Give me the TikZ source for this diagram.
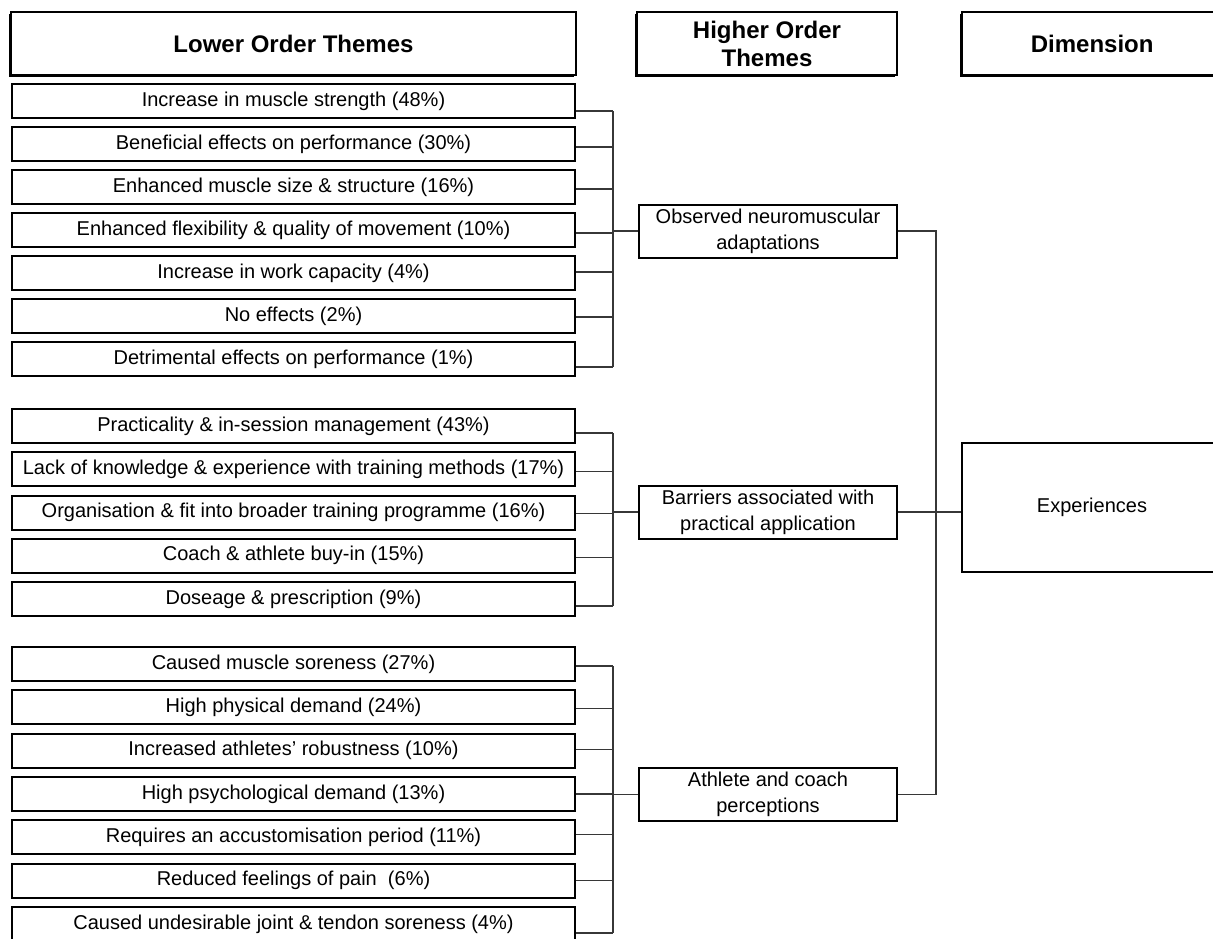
\documentclass[tikz,border=0pt]{standalone}
\usepackage{fontspec}
\setmainfont{Liberation Sans}
\usepackage{xcolor}
\definecolor{ink}{RGB}{0,0,0}
\definecolor{wiregray}{RGB}{55,55,55}
\usepackage{tikz}
\usetikzlibrary{calc,shadows}
\tikzset{
  %% column headers
  headbox/.style={draw=ink, line width=1.2pt, fill=white, inner sep=0pt,
    align=center, minimum height=31.5pt,
    font=\fontsize{12}{14}\selectfont\bfseries,
    drop shadow={shadow xshift=-1pt, shadow yshift=-1pt,
                 opacity=1, fill=ink}},
  %% lower order themes
  lowbox/.style={draw=ink, line width=1pt, fill=white, inner sep=0pt,
    anchor=west, minimum width=281.5pt, minimum height=17pt,
    font=\fontsize{10}{13}\selectfont},
  %% higher order themes and dimension
  highbox/.style={draw=ink, line width=1pt, fill=white, inner sep=0pt,
    align=center, minimum width=129pt, minimum height=26.5pt,
    font=\fontsize{10}{13}\selectfont},
  wire/.style={draw=wiregray, line width=0.6pt},
}

\begin{document}
\begin{tikzpicture}[x=0.5pt,y=-0.5pt]
  \clip (0,0) rectangle (1213,938);
  \coordinate (s1) at (613,0);
  \coordinate (s2) at (936,0);
  %% headers
  \node[headbox, minimum width=282.5pt] (hlow) at (293.5,43.5)
    {Lower Order Themes};
  \node[headbox, minimum width=130pt] (hhigh) at (767,43.5)
    {Higher Order\\Themes};
  \node[headbox, minimum width=130pt, anchor=west] (hdim) at (961,43.5)
    {Dimension};
  %% higher order themes
  \node[highbox] (hob1) at (768,231)   {Observed neuromuscular\\adaptations};
  \node[highbox] (hob2) at (768,512)   {Barriers associated with\\practical application};
  \node[highbox] (hob3) at (768,794.5) {Athlete and coach\\perceptions};
  \node[highbox, anchor=west, minimum width=130pt, minimum height=64.5pt]
    (exp) at (961,507.5) {Experiences};
  %% group 1
  \foreach \lbl/\dy [count=\i from 0] in {
      {Increase in muscle strength (48\%)}/10,
      {Beneficial effects on performance (30\%)}/3,
      {Enhanced muscle size \& structure (16\%)}/2,
      {Enhanced flexibility \& quality of movement (10\%)}/3,
      {Increase in work capacity (4\%)}/-1,
      {No effects (2\%)}/1,
      {Detrimental effects on performance (1\%)}/8}{
    \node[lowbox] (a\i) at (11,101+43*\i) {\lbl};
    \draw[wire] ($(a\i.east)+(0,\dy)$) coordinate (pa\i) -- (pa\i -| s1);
  }
  \draw[wire] (pa0 -| s1) -- (pa6 -| s1);
  \draw[wire] (hob1.west -| s1) -- (hob1.west);
  %% group 2
  \foreach \lbl/\dy [count=\i from 0] in {
      {Practicality \& in-session management (43\%)}/7,
      {Lack of knowledge \& experience with training methods (17\%)}/2,
      {Organisation \& fit into broader training programme (16\%)}/1,
      {Coach \& athlete buy-in (15\%)}/2,
      {Doseage \& prescription (9\%)}/7}{
    \node[lowbox] (b\i) at (11,426+43.25*\i) {\lbl};
    \draw[wire] ($(b\i.east)+(0,\dy)$) coordinate (pb\i) -- (pb\i -| s1);
  }
  \draw[wire] (pb0 -| s1) -- (pb4 -| s1);
  \draw[wire] (hob2.west -| s1) -- (hob2.west);
  %% group 3
  \foreach \lbl/\dy [count=\i from 0] in {
      {Caused muscle soreness (27\%)}/2,
      {High physical demand (24\%)}/1,
      {Increased athletes' robustness (10\%)}/-1,
      {High psychological demand (13\%)}/0,
      {Requires an accustomisation period (11\%)}/-3,
      {Reduced feelings of pain\ \ (6\%)}/0,
      {Caused undesirable joint \& tendon soreness (4\%)}/9}{
    \node[lowbox] (c\i) at (11,664+43.33*\i) {\lbl};
    \draw[wire] ($(c\i.east)+(0,\dy)$) coordinate (pc\i) -- (pc\i -| s1);
  }
  \draw[wire] (pc0 -| s1) -- (pc6 -| s1);
  \draw[wire] (hob3.west -| s1) -- (hob3.west);
  %% dimension
  \draw[wire] (hob1.east) -- (hob1.east -| s2) -- (hob3.east -| s2)
    -- (hob3.east);
  \draw[wire] (hob2.east) -- (hob2.east -| exp.west);
\end{tikzpicture}
\end{document}
